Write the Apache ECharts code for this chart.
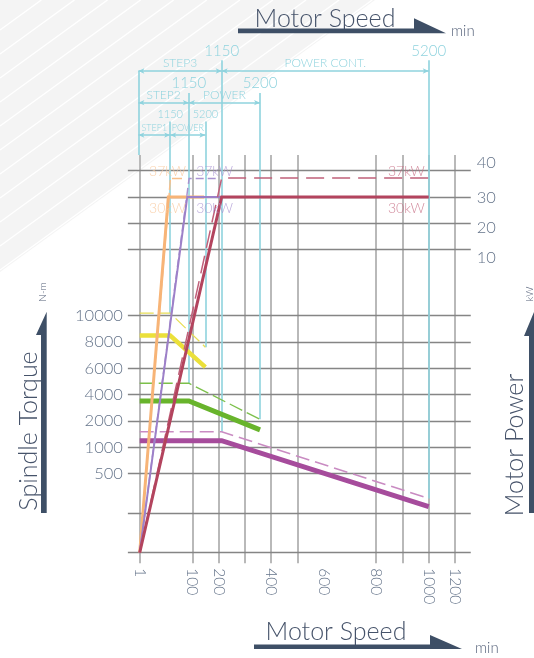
<!DOCTYPE html>
<html>
<head>
<meta charset="utf-8">
<script src="https://cdn.jsdelivr.net/npm/echarts@6.0.0/dist/echarts.min.js"></script>
<style>
html,body{margin:0;padding:0;background:#ffffff;}
#chart{width:534px;height:658px;}
</style>
</head>
<body>
<div id="chart"></div>
<script>
// ---------- axis ticks (positions on the chart's own speed / output grid) ----------
const speedTickPos = [0, 2, 3, 5, 7, 9, 11, 12];
const speedTickLabels = ['1', '100', '200', '400', '600', '800', '1000', '1200'];
const torqueTickPos = [3, 4, 5, 6, 7, 8, 9];
const torqueTickLabels = ['500', '1000', '2000', '4000', '6000', '8000', '10000'];
const powerTickPos = [11.21, 12.35, 13.47, 14.8];
const powerTickLabels = ['10', '20', '30', '40'];
const speedGridPos = [0, 2, 3, 4, 5, 6, 9, 10, 11, 12];
const levelGridPos = [0, 1.5, 3, 4, 5, 6, 7, 8, 9, 11.5, 12.5, 13.5, 14.5];

// ---------- gear steps ----------
const stepNames = ['STEP1', 'STEP2', 'STEP3'];
const rangeNames = ['POWER', 'POWER', 'POWER CONT.'];
const baseSpeedLabel = '1150';
const maxSpeedLabel = '5200';
const stepBaseSpeed = [1.16, 1.87, 3.12];
const stepMaxSpeed = [2.5, 4.58, 11.0];

// ---------- motor power curves (30 kW cont. / 37 kW short time) ----------
const step1Pow30X = [0, 1.09, 2.45];
const step1Pow30Y = [0, 13.5, 13.5];
const step1Pow37X = [0, 1.17, 1.72];
const step1Pow37Y = [0, 14.2, 14.2];
const step2Pow30X = [0, 1.81, 3.12];
const step2Pow30Y = [0, 13.5, 13.5];
const step2Pow37X = [0, 1.88, 3.05];
const step2Pow37Y = [0, 14.2, 14.2];
const step3Pow30X = [0, 3.12, 11.0];
const step3Pow30Y = [0, 13.5, 13.5];
const step3Pow37X = [0, 3.12, 11.0];
const step3Pow37Y = [0, 14.22, 14.22];

// ---------- spindle torque curves ----------
const step1TrqX = [0, 1.16, 2.5];
const step1TrqY = [8.24, 8.24, 7.04];
const step1TrqMaxY = [9.09, 9.09, 7.8];
const step2TrqX = [0, 1.87, 4.58];
const step2TrqY = [5.76, 5.76, 4.66];
const step2TrqMaxY = [6.43, 6.43, 5.06];
const step3TrqX = [0, 3.12, 11.0];
const step3TrqY = [4.25, 4.25, 1.75];
const step3TrqMaxY = [4.59, 4.59, 2.06];

// ---------- power annotations ----------
const kwNames = ['37kW', '30kW'];
const kwLabelSpeed = [1.06, 2.85, 10.15];
const kwLabelLevel = [14.45, 13.06];

// ---------- layout (not data) ----------
const FONT = 'Lato, "Open Sans", sans-serif';
const AXIS_TXT = '#65748a';
const TITLE_TXT = '#46536a';
const DARK = '#3e4f66';
const CYAN = '#8fd3de';
const bracketLeft = -0.05;
const bracketLevel = [15.85, 17.08, 18.28];
const markerTop = [16.36, 17.45, 18.69];
const plotTop = 15.09, plotBottom = -0.4, plotLeft = -0.45, plotRight = 12.6;

const zip = (xs, ys) => xs.map((x, i) => [x, ys[i]]);
const labelFor = (pos, labels) => (v) => {
  for (let i = 0; i < pos.length; i++) if (Math.abs(pos[i] - v) < 1e-6) return labels[i];
  return '';
};

// gray grid lines
const vGrid = speedGridPos.map(x => [{coord: [x, plotBottom]}, {coord: [x, plotTop]}]);
const hGrid = levelGridPos.map(y => [{coord: [plotLeft, y]}, {coord: [plotRight, y]}]);

// cyan step markers
const stepTrqMax = [step1TrqMaxY, step2TrqMaxY, step3TrqMaxY];
const cyanLines = [];
const smallTxt = [11, 15, 15];
const stepTxt = [9, 12, 12];
for (let i = 0; i < 3; i++) {
  const lab = (txt, pos, size) => ({show: true, position: pos, distance: 2, formatter: txt, fontSize: size,
    color: CYAN, fontFamily: FONT, fontWeight: 300});
  cyanLines.push([
    {coord: [stepBaseSpeed[i], stepTrqMax[i][1]], label: lab(baseSpeedLabel, 'end', smallTxt[i])},
    {coord: [stepBaseSpeed[i], markerTop[i]]}
  ]);
  cyanLines.push([
    {coord: [stepMaxSpeed[i], stepTrqMax[i][2]], label: lab(maxSpeedLabel, 'end', smallTxt[i])},
    {coord: [stepMaxSpeed[i], markerTop[i]]}
  ]);
  cyanLines.push([
    {coord: [bracketLeft, bracketLevel[i]], symbol: 'arrow', symbolSize: [4, 6],
     label: lab(stepNames[i], 'insideMiddleTop', stepTxt[i])},
    {coord: [stepBaseSpeed[i], bracketLevel[i]], symbol: 'arrow', symbolSize: [4, 6]}
  ]);
  cyanLines.push([
    {coord: [stepBaseSpeed[i], bracketLevel[i]], symbol: 'arrow', symbolSize: [4, 6],
     label: lab(rangeNames[i], 'insideMiddleTop', stepTxt[i])},
    {coord: [stepMaxSpeed[i], bracketLevel[i]], symbol: 'arrow', symbolSize: [4, 6]}
  ]);
}
cyanLines.push([{coord: [bracketLeft, plotTop]}, {coord: [bracketLeft, bracketLevel[2]]}]);

function curve(name, xs, ys, color, width, dash, z) {
  return {
    name, type: 'line', data: zip(xs, ys), symbol: 'none', silent: true, z: z || 5,
    lineStyle: {color, width, type: dash || 'solid', cap: 'butt', join: 'miter'}
  };
}
function kwLabels(color, xi) {
  return {
    type: 'scatter', symbolSize: 0, silent: true, z: 8,
    data: kwNames.map((n, j) => ({name: n, value: [kwLabelSpeed[xi], kwLabelLevel[j]]})),
    label: {show: true, position: 'inside', formatter: '{b}', color, fontSize: 14, fontFamily: FONT, fontWeight: 300}
  };
}

// background stripes (decoration)
const stripes = [];
for (let c = 30; c < 272; c += 24) {
  stripes.push({type: 'line', z: -5, silent: true, shape: {x1: 0, y1: c, x2: c * 375 / 272, y2: 0},
    style: {stroke: '#ffffff', lineWidth: 1.4}});
}
const titleStyle = (text, size) => ({text, fontSize: size, fontFamily: FONT, fontWeight: 300, fill: TITLE_TXT,
  align: 'center', verticalAlign: 'middle'});

const option = {
  animation: false,
  backgroundColor: '#ffffff',
  grid: {left: 127.88, right: 63.23, top: 38.88, bottom: 94.76, containLabel: false},
  xAxis: {
    type: 'value', min: plotLeft, max: 12.6,
    axisLine: {show: false}, axisTick: {show: false}, splitLine: {show: false},
    axisLabel: {customValues: speedTickPos, formatter: labelFor(speedTickPos, speedTickLabels),
      rotate: -90, margin: 5, color: AXIS_TXT, fontSize: 15.5, fontFamily: FONT, fontWeight: 300}
  },
  yAxis: [{
    type: 'value', min: -0.4, max: 19.5, position: 'left',
    axisLine: {show: false}, axisTick: {show: false}, splitLine: {show: false},
    axisLabel: {customValues: torqueTickPos, formatter: labelFor(torqueTickPos, torqueTickLabels),
      margin: 5, color: AXIS_TXT, fontSize: 16.5, fontFamily: FONT, fontWeight: 300}
  }, {
    type: 'value', min: -0.4, max: 19.5, position: 'right',
    axisLine: {show: false}, axisTick: {show: false}, splitLine: {show: false},
    axisLabel: {customValues: powerTickPos, formatter: labelFor(powerTickPos, powerTickLabels),
      margin: 6, color: AXIS_TXT, fontSize: 16.5, fontFamily: FONT, fontWeight: 300}
  }],
  graphic: [
    {type: 'polygon', z: -6, silent: true, shape: {points: [[0, 0], [375, 0], [0, 272]]}, style: {fill: '#f4f4f4'}},
    ...stripes,
    // top title
    {type: 'text', x: 325, y: 18.5, style: titleStyle('Motor Speed', 25)},
    {type: 'polygon', shape: {points: [[238, 28.5], [414, 28.5], [414, 18.3], [446, 33.3], [238, 33.3]]}, style: {fill: DARK}},
    {type: 'text', x: 451, y: 31, style: {text: 'min', fontSize: 15, fontFamily: FONT, fontWeight: 300, fill: '#56627a', align: 'left', verticalAlign: 'middle'}},
    // bottom title
    {type: 'text', x: 336, y: 632, style: titleStyle('Motor Speed', 25)},
    {type: 'polygon', shape: {points: [[254, 644.5], [430, 644.5], [430, 635], [462, 649], [254, 649]]}, style: {fill: DARK}},
    {type: 'text', x: 475, y: 648, style: {text: 'min', fontSize: 15, fontFamily: FONT, fontWeight: 300, fill: '#56627a', align: 'left', verticalAlign: 'middle'}},
    // left title
    {type: 'text', x: 29, y: 431, rotation: Math.PI / 2, style: titleStyle('Spindle Torque', 25)},
    {type: 'polygon', shape: {points: [[41, 513], [41, 335], [36, 335], [46.7, 311.7], [46.7, 513]]}, style: {fill: DARK}},
    {type: 'text', x: 43, y: 292, rotation: Math.PI / 2, style: {text: 'N-m', fontSize: 10, fontFamily: FONT, fontWeight: 300, fill: '#56627a', align: 'center', verticalAlign: 'middle'}},
    // right title
    {type: 'text', x: 515, y: 445, rotation: Math.PI / 2, style: titleStyle('Motor Power', 25)},
    {type: 'polygon', shape: {points: [[529, 513], [529, 336], [524, 336], [534, 312], [534, 513]]}, style: {fill: DARK}},
    {type: 'text', x: 530, y: 294, rotation: Math.PI / 2, style: {text: 'kW', fontSize: 10, fontFamily: FONT, fontWeight: 300, fill: '#56627a', align: 'center', verticalAlign: 'middle'}}
  ],
  series: [
    {type: 'line', data: [], silent: true, z: 1,
     markLine: {silent: true, symbol: 'none', animation: false, label: {show: false},
       lineStyle: {color: '#b9b9b9', width: 2, type: 'solid'}, data: vGrid}},
    {type: 'line', data: [], silent: true, z: 1,
     markLine: {silent: true, symbol: 'none', animation: false, label: {show: false},
       lineStyle: {color: '#858585', width: 1.3, type: 'solid'}, data: hGrid}},
    {type: 'line', data: [], silent: true, z: 2,
     markLine: {silent: true, symbol: 'none', animation: false, label: {show: false},
       lineStyle: {color: CYAN, width: 1.6, type: 'solid'}, data: cyanLines}},
    // torque
    curve('step1 torque max', step1TrqX, step1TrqMaxY, '#e8de55', 1.3, [14, 5]),
    curve('step1 torque', step1TrqX, step1TrqY, '#ebe03a', 4.5),
    curve('step2 torque max', step2TrqX, step2TrqMaxY, '#7cc04a', 1.3, [14, 5]),
    curve('step2 torque', step2TrqX, step2TrqY, '#68b42c', 5),
    curve('step3 torque max', step3TrqX, step3TrqMaxY, '#c98bc2', 1.6, [14, 6]),
    curve('step3 torque', step3TrqX, step3TrqY, '#a64c9c', 5),
    // power
    curve('step1 power 37', step1Pow37X, step1Pow37Y, '#f7c08c', 1.5, [10, 3]),
    curve('step1 power 30', step1Pow30X, step1Pow30Y, '#f7b477', 3),
    curve('step2 power 37', step2Pow37X, step2Pow37Y, '#a892d0', 1.5, [8, 4]),
    curve('step2 power 30', step2Pow30X, step2Pow30Y, '#9d80c8', 2),
    curve('step3 power 37', step3Pow37X, step3Pow37Y, '#c0607a', 1.5, [18, 8]),
    curve('step3 power 30', step3Pow30X, step3Pow30Y, '#b3445e', 3),
    kwLabels('#f9c79a', 0),
    kwLabels('#a994d2', 1),
    kwLabels('#c56c82', 2)
  ]
};
const chart = echarts.init(document.getElementById('chart'));
chart.setOption(option);
</script>
</body>
</html>
